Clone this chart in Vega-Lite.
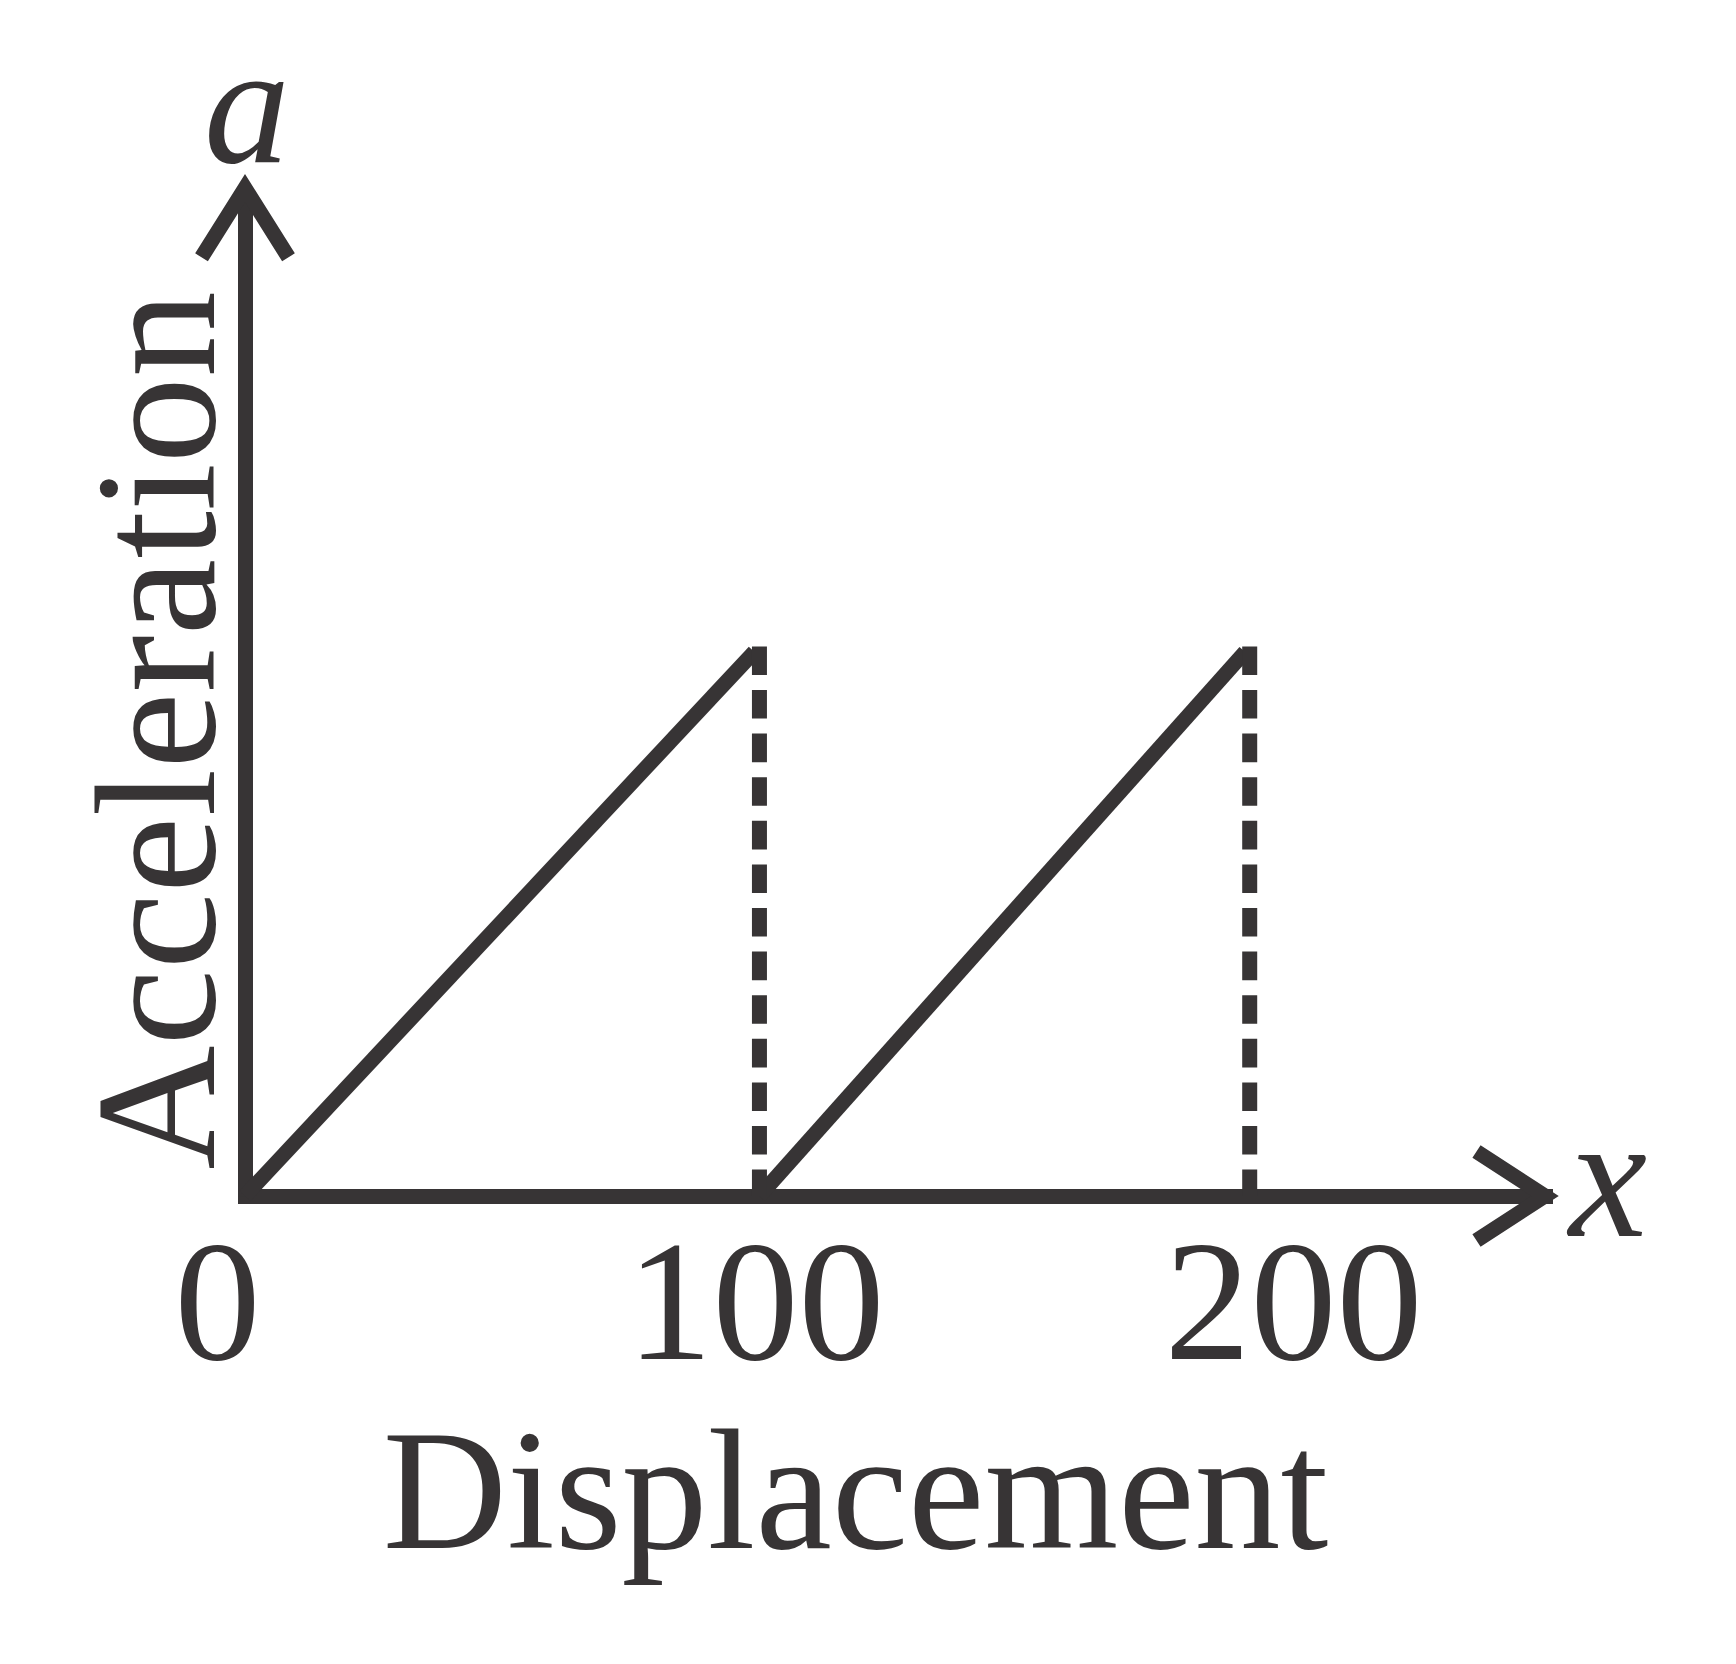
{
  "$schema": "https://vega.github.io/schema/vega-lite/v6.json",
  "width": 1300,
  "height": 1008,
  "autosize": {"type": "none"},
  "padding": {"left": 245, "top": 188, "right": 191, "bottom": 468},
  "background": "white",
  "config": {
    "view": {"stroke": null},
    "axis": {
      "domainColor": "#373435",
      "domainWidth": 15,
      "ticks": false,
      "tickSize": 0,
      "grid": false,
      "labelFont": "Liberation Serif",
      "labelFontSize": 172,
      "labelColor": "#373435",
      "labelLimit": 0,
      "titleFont": "Liberation Serif",
      "titleFontSize": 172,
      "titleFontWeight": "normal",
      "titleColor": "#373435",
      "titleLimit": 0
    }
  },
  "datasets": {
    "lines": [
      {"seg": 1, "x": 0, "y": 0},
      {"seg": 1, "x": 99, "y": 9.9},
      {"seg": 2, "x": 100, "y": 0},
      {"seg": 2, "x": 194.4, "y": 9.9}
    ],
    "drops": [
      {"x": 100, "y": 10, "y2": 0},
      {"x": 195.3, "y": 10, "y2": 0}
    ],
    "arrows": [
      {"axis": "x", "x": 252.7, "y": 0, "sym": "x"},
      {"axis": "y", "x": 0, "y": 18.34, "sym": "a"}
    ]
  },
  "encoding": {
    "x": {
      "field": "x",
      "type": "quantitative",
      "scale": {"domain": [0, 252.7], "nice": false, "zero": false},
      "axis": {
        "values": [0, 100, 200],
        "format": "d",
        "domainCap": "square",
        "labelPadding": 162,
        "labelBaseline": "alphabetic",
        "labelAlign": "center",
        "labelAngle": 0,
        "labelOffset": {
          "condition": [
            {"test": "datum.value == 0", "value": -28},
            {"test": "datum.value == 200", "value": 19}
          ],
          "value": -4.5
        },
        "labelOverlap": false,
        "labelFlush": false,
        "labelBound": false,
        "title": "Displacement",
        "titleX": 610,
        "titleY": 351,
        "titleBaseline": "alphabetic",
        "titleAlign": "center"
      }
    },
    "y": {
      "field": "y",
      "type": "quantitative",
      "scale": {"domain": [0, 18.34], "nice": false, "zero": false},
      "axis": {
        "labels": false,
        "domainCap": "butt",
        "title": "Acceleration",
        "titleX": -32,
        "titleY": 542,
        "titleAngle": -90,
        "titleBaseline": "alphabetic",
        "titleAlign": "center"
      }
    }
  },
  "layer": [
    {
      "data": {"name": "lines"},
      "mark": {"type": "line", "strokeWidth": 15, "color": "#373435", "strokeCap": "butt"},
      "encoding": {"detail": {"field": "seg"}}
    },
    {
      "data": {"name": "drops"},
      "mark": {"type": "rule", "strokeWidth": 15, "strokeDash": [28.6, 15], "color": "#373435", "strokeCap": "butt"},
      "encoding": {"y2": {"field": "y2"}}
    },
    {
      "data": {"name": "arrows"},
      "mark": {"type": "point", "filled": false, "opacity": 1, "strokeWidth": 15, "strokeJoin": "miter", "strokeMiterLimit": 10, "strokeCap": "butt", "color": "#373435", "size": 19000},
      "encoding": {
        "shape": {
          "field": "axis",
          "type": "nominal",
          "scale": {"domain": ["x", "y"], "range": ["M-0.994,-0.646L0,0L-0.994,0.646", "M-0.631,1.006L0,0L0.631,1.006"]},
          "legend": null
        }
      }
    },
    {
      "data": {"name": "arrows"},
      "transform": [{"filter": "datum.axis == 'y'"}],
      "mark": {"type": "text", "font": "Liberation Serif", "fontStyle": "italic", "fontSize": 172, "baseline": "alphabetic", "align": "center", "dx": 2, "dy": -26, "color": "#373435"},
      "encoding": {"text": {"field": "sym"}}
    },
    {
      "data": {"name": "arrows"},
      "transform": [{"filter": "datum.axis == 'x'"}],
      "mark": {"type": "text", "font": "Liberation Serif", "fontStyle": "italic", "fontSize": 176, "baseline": "alphabetic", "align": "left", "dx": 24, "dy": 40, "color": "#373435"},
      "encoding": {"text": {"field": "sym"}}
    }
  ]
}
